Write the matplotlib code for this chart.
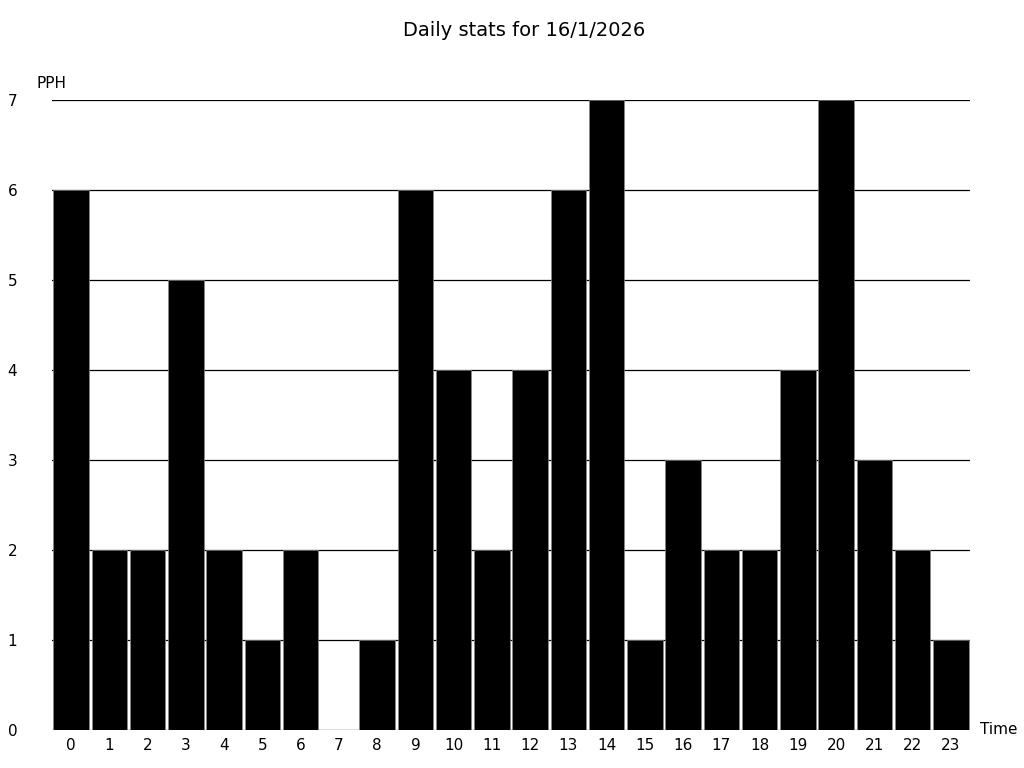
import matplotlib
matplotlib.use('Agg')
import matplotlib.pyplot as plt

hours = list(range(24))
pph = [6, 2, 2, 5, 2, 1, 2, 0, 1, 6, 4, 2, 4, 6, 7, 1, 3, 2, 2, 4, 7, 3, 2, 1]
title = 'Daily stats for 16/1/2026'

fig = plt.figure(figsize=(10.24, 7.68), dpi=100)
ax = fig.add_axes([52 / 1024, 1 - 730 / 768, 918 / 1024, 630 / 768])

ax.bar(hours, pph, width=0.93, color='black', edgecolor='#888888', linewidth=0.5, zorder=2)

ax.set_xlim(-0.5, 23.5)
ax.set_ylim(0, 7)
ax.set_yticks(range(8))
ax.set_xticks(hours)
ax.yaxis.grid(True, color='black', linewidth=0.9, zorder=1)
ax.set_axisbelow(True)
for s in ax.spines.values():
    s.set_visible(False)
ax.tick_params(axis='both', length=0, labelsize=11)
ax.tick_params(axis='y', pad=25)
ax.tick_params(axis='x', pad=6)
for lbl in ax.get_xticklabels():
    lbl.set_x(lbl.get_position()[0])

fig.text(37 / 1024, 1 - 84 / 768, 'PPH', fontsize=11, va='center', ha='left')
fig.text(980 / 1024, 1 - 730 / 768, 'Time', fontsize=11, va='center', ha='left')
fig.text(524 / 1024, 1 - 30 / 768, title, fontsize=14, va='center', ha='center')

fig.savefig('out.png')
